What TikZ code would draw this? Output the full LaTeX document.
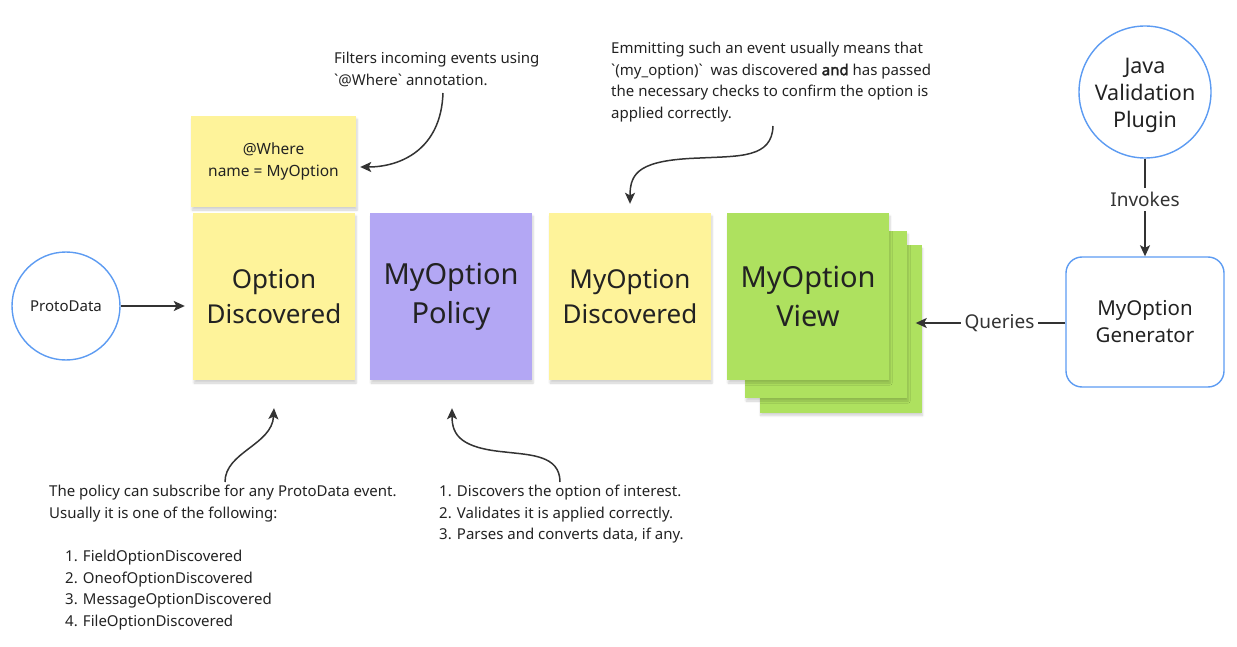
\documentclass[tikz,border=0pt]{standalone}
\usepackage{fontspec}
\setmainfont{Noto Sans}
\usetikzlibrary{arrows.meta, positioning, calc, shadows.blur}

\definecolor{noteyellow}{HTML}{FEF39A}
\definecolor{notepurple}{HTML}{B3A7F4}
\definecolor{notegreen}{HTML}{AEE15F}
\definecolor{ringblue}{HTML}{5C9BF2}
\definecolor{inkgray}{HTML}{333333}
\definecolor{textgray}{HTML}{222222}

\newcommand{\strongword}[1]{{\addfontfeature{FakeBold=2.5}#1}}

\tikzset{
  sticky/.style={rectangle, minimum width=162pt, minimum height=167pt, inner sep=0pt,
    align=center, text=textgray,
    blur shadow={shadow xshift=1pt, shadow yshift=-3pt, shadow blur steps=6, shadow opacity=18}},
  bigtext/.style={font=\fontsize{26}{35}\selectfont},
  hugetext/.style={font=\fontsize{29}{39}\selectfont},
  source/.style={circle, draw=ringblue, line width=1.4pt, fill=white, align=center,
    inner sep=0pt, text=textgray},
  gen/.style={rectangle, rounded corners=16pt, draw=ringblue, line width=1.4pt,
    minimum width=158pt, minimum height=130pt, align=center, text=textgray,
    font=\fontsize{20.5}{27}\selectfont},
  conn/.style={draw=inkgray, line width=1.5pt, -{Stealth[length=11pt, width=10pt, inset=2.5pt]}},
  edgelabel/.style={fill=white, text=inkgray, inner sep=4pt, font=\fontsize{19}{22}\selectfont},
  annot/.style={anchor=north west, align=left, inner sep=0pt, text=textgray,
    font=\fontsize{15}{21.6}\selectfont},
}

\begin{document}
\begin{tikzpicture}[x=1pt, y=-1pt]
\useasboundingbox (0,0) rectangle (1237,647);
\def\rowy{296.5}

% event source
\node[source, minimum size=108pt, font=\fontsize{15}{18}\selectfont] (protodata) at (66,306) {ProtoData};

% sticky notes
\node[sticky, fill=noteyellow, minimum width=165pt, minimum height=91pt,
  font=\fontsize{15.5}{21.5}\selectfont] (wherefilter) at (273.5,161.5) {@Where\\name = MyOption};
\node[sticky, fill=noteyellow, bigtext] (optdisc) at (274,\rowy) {Option\\Discovered};
\node[sticky, fill=notepurple, hugetext] (policy) at (451,\rowy) {MyOption\\Policy};
\node[sticky, fill=noteyellow, bigtext] (mydisc) at (630,\rowy) {MyOption\\Discovered};
% stacked view notes
\foreach \off/\nm in {32.5/viewback, 18/viewmid}
  \node[sticky, fill=notegreen] (\nm) at (808+\off,\rowy+\off) {};
\node[sticky, fill=notegreen, hugetext] (view) at (808,\rowy) {MyOption\\View};

% plugin and generator
\node[source, minimum size=132pt, font=\fontsize{21.5}{27}\selectfont] (plugin) at (1145,92) {\\[-4pt]Java\\Validation\\Plugin};
\node[gen] (generator) at (1145,322) {MyOption\\Generator};

% connectors
\draw[conn, shorten >=8pt] (protodata.east) -- (protodata.east -| optdisc.west);
\draw[conn] (plugin.south) -- node[edgelabel, pos=0.42]{Invokes} (generator.north);
\coordinate (querytip) at ($(viewback.east |- generator.west)+(-6,1)$);
\draw[conn] (generator.west) ++(0,1) -- node[edgelabel, pos=0.44]{Queries} (querytip);

% annotations
\node[annot] (filtertxt) at (334,52) {Filters incoming events using\\\textasciigrave @Where\textasciigrave\ annotation.};
\node[annot] (emittxt) at (611,42) {Emmitting such an event usually means that\\\textasciigrave(my\_option)\textasciigrave\ \ was discovered \strongword{and} has passed\\the necessary checks to confirm the option is\\applied correctly.};
\node[annot] (subtxt) at (49,485) {The policy can subscribe for any ProtoData event.\\Usually it is one of the following:\\[21.6pt]
  \hspace*{16pt}1. FieldOptionDiscovered\\\hspace*{16pt}2. OneofOptionDiscovered\\
  \hspace*{16pt}3. MessageOptionDiscovered\\\hspace*{16pt}4. FileOptionDiscovered};
\node[annot] (stepstxt) at (439,485) {1. Discovers the option of interest.\\2. Validates it is applied correctly.\\3. Parses and converts data, if any.};

% curved pointers
\coordinate (filterfoot) at (443,93);
\coordinate (wheretip) at ($(wherefilter.east)+(4,5.5)$);
\draw[conn] (filterfoot) .. controls (441,150) and (400,167) .. (wheretip);
\coordinate (emitfoot) at (773,126);
\coordinate (emitbend) at (700,158);
\coordinate (mydisctip) at ($(mydisc.north)+(0,-9)$);
\draw[conn] (emitfoot) .. controls (772,158) and (740,156) .. (emitbend)
  .. controls (640,160) and (630,172) .. (mydisctip);
\coordinate (subfoot) at (225,482);
\coordinate (optdisctip) at ($(optdisc.south)+(0,28)$);
\draw[conn] (subfoot) .. controls (225,452) and (272,445) .. (optdisctip);
\coordinate (stepsfoot) at (560,482);
\coordinate (stepsbend) at (505,452);
\coordinate (policytip) at ($(policy.south)+(1,28)$);
\draw[conn] (stepsfoot) .. controls (560,455) and (530,455) .. (stepsbend)
  .. controls (462,448) and (452,436) .. (policytip);
\end{tikzpicture}
\end{document}
